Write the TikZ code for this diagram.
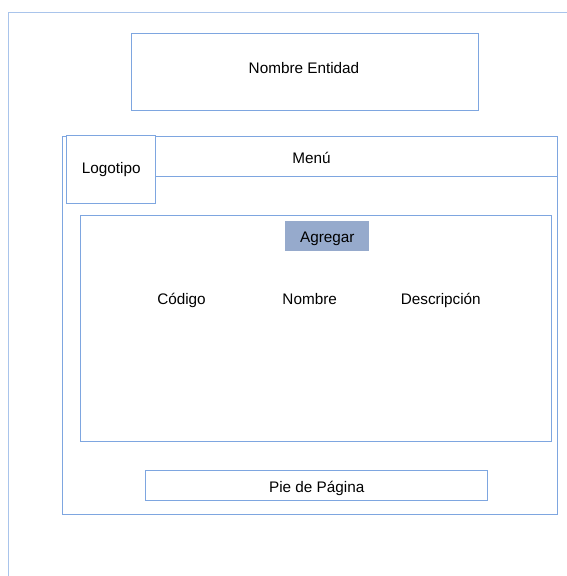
\documentclass[tikz,border=0pt]{standalone}
\usepackage{fontspec}
\setmainfont{Liberation Sans}
\definecolor{edge}{HTML}{7EA6E0}
\definecolor{paleedge}{HTML}{A9C4EB}
\definecolor{btn}{HTML}{96AACC}
\begin{document}
\begin{tikzpicture}[x=1pt,y=-1pt,
  box/.style={draw=edge,line width=1pt,minimum width=#1,inner sep=0pt,anchor=center},
  lbl/.style={font=\fontsize{15.3}{18}\selectfont,text=black,inner sep=0pt,anchor=base}]
\useasboundingbox (0,0) rectangle (567,576);
% outer page frame
\coordinate (fb) at (8,576);
\coordinate (ft) at (8,12);
\coordinate (fr) at (567,12);
\draw[paleedge,line width=1pt] (fb) -- (ft) -- (fr);
% title
\node[box=347pt,minimum height=77pt] (title) at (304.5,71.5) {};
\node[lbl] (titletxt) at (304,73.3) {Nombre Entidad};
% container
\node[box=495pt,minimum height=378pt] (cont) at (309.5,325) {};
% logotipo
\node[box=89pt,minimum height=68pt,fill=white] (logo) at (110.5,169) {};
\node[lbl] (logotxt) at (111.3,173.7) {Logotipo};
% menu divider
\coordinate (ml) at (155,176);
\coordinate (mr) at (557,176);
\draw[edge,line width=1pt] (ml) -- (mr);
\node[lbl] (menu) at (311.5,163.3) {Menú};
% content
\node[box=471pt,minimum height=226pt] (content) at (315.5,328) {};
\node[box=84pt,minimum height=30pt,draw=none,fill=btn] (add) at (327,236) {};
\node[lbl] (addtxt) at (327.3,242) {Agregar};
\node[lbl] (c1) at (181.5,304) {Código};
\node[lbl] (c2) at (309.7,304) {Nombre};
\node[lbl] (c3) at (440.8,304) {Descripción};
% footer
\node[box=342pt,minimum height=30pt] (foot) at (316,485) {};
\node[lbl] (foottxt) at (316.7,492.5) {Pie de Página};
\end{tikzpicture}
\end{document}
